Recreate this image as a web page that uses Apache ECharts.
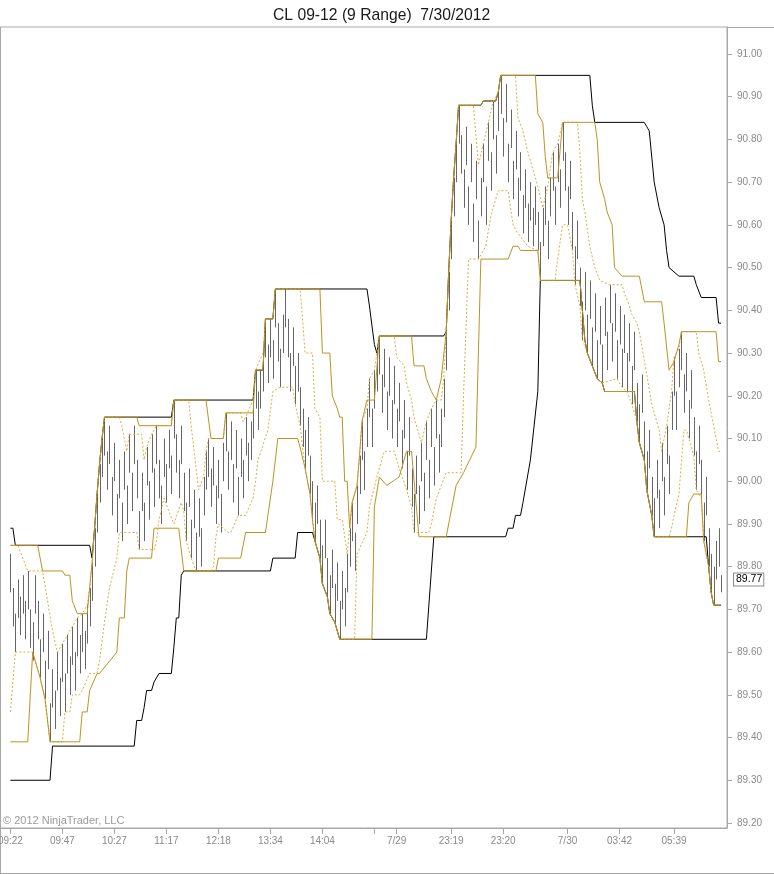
<!DOCTYPE html>
<html><head><meta charset="utf-8">
<script src="https://cdn.jsdelivr.net/npm/echarts@6/dist/echarts.min.js"></script>
<style>html,body{margin:0;padding:0;background:#fff}#c{width:774px;height:874px}</style>
</head><body><div id="c"></div>
<script>
// ---- data (bar index on x, price on y) ----
const chartTitle = 'CL 09-12 (9 Range)  7/30/2012';
const copyright = '\u00a9 2012 NinjaTrader, LLC';
const xTickIndex = [0, 21, 42, 63, 84, 105, 126, 147, 156, 178, 199, 225, 246, 268];
const xTickLabels = ['09:22', '09:47', '10:27', '11:17', '12:18', '13:34', '14:04', '', '7/29', '23:19', '23:20', '7/30', '03:42', '05:39'];
const yTickValues = [89.2, 89.3, 89.4, 89.5, 89.6, 89.7, 89.8, 89.9, 90.0, 90.1, 90.2, 90.3, 90.4, 90.5, 90.6, 90.7, 90.8, 90.9, 91.0];
const lastPrice = 89.77;

const barLows = [
89.74,89.66,89.60,89.68,89.64,89.69,89.63,89.70,89.61,89.58,
89.69,89.63,89.54,89.60,89.49,89.56,89.39,89.47,89.42,89.51,
89.45,89.53,89.46,89.55,89.50,89.57,89.51,89.59,89.55,89.60,
89.56,89.62,89.66,89.72,89.80,89.88,89.95,90.01,90.06,89.98,
90.04,89.92,90.00,89.88,89.96,89.86,89.98,89.90,90.02,89.93,
90.04,89.96,89.84,89.93,89.86,89.99,89.91,90.02,89.94,90.04,
89.96,89.90,90.01,89.95,90.03,89.97,90.10,90.02,89.96,90.04,
89.93,89.86,89.94,89.82,89.89,89.79,89.87,89.80,89.92,89.98,
90.01,89.94,89.99,89.90,89.96,89.88,90.00,90.07,89.98,90.05,
89.95,90.03,89.92,90.01,89.96,90.06,90.00,90.05,90.10,90.17,
90.12,90.17,90.21,90.29,90.23,90.29,90.24,90.36,90.28,90.22,
90.30,90.36,90.29,90.21,90.27,90.18,90.21,90.13,90.08,90.03,
90.06,89.97,89.91,89.86,89.90,89.82,89.76,89.82,89.73,89.69,
89.75,89.67,89.72,89.63,89.70,89.66,89.74,89.80,89.86,89.79,
89.90,89.97,90.05,89.98,90.08,90.15,90.08,90.17,90.21,90.25,
90.16,90.22,90.12,90.20,90.10,90.18,90.08,90.14,90.03,90.10,
89.98,90.06,89.94,89.88,89.97,89.90,90.00,89.93,90.05,89.96,
90.08,89.99,90.10,90.02,90.08,90.15,90.26,90.40,90.52,90.62,
90.70,90.79,90.72,90.64,90.74,90.60,90.70,90.56,90.66,90.52,
90.62,90.70,90.60,90.75,90.68,90.80,90.72,90.82,90.86,90.76,
90.84,90.70,90.78,90.66,90.73,90.62,90.68,90.58,90.64,90.56,
90.61,90.55,90.60,90.54,90.47,90.55,90.60,90.52,90.62,90.68,
90.60,90.70,90.64,90.75,90.68,90.60,90.66,90.54,90.46,90.52,
90.41,90.33,90.40,90.30,90.38,90.27,90.35,90.24,90.32,90.23,
90.34,90.26,90.37,90.28,90.35,90.24,90.32,90.22,90.30,90.21,
90.28,90.18,90.26,90.14,90.09,90.16,90.05,89.98,90.03,89.92,
89.87,89.96,89.89,90.00,89.92,90.04,89.97,90.12,90.20,90.12,
90.22,90.26,90.16,90.21,90.10,90.17,90.06,89.98,90.04,89.96,
89.86,89.92,89.80,89.74,89.71,89.77,89.80,89.74
];
const barHighs = [
89.83,89.75,89.69,89.77,89.73,89.78,89.72,89.79,89.70,89.67,
89.78,89.72,89.63,89.69,89.58,89.65,89.48,89.56,89.51,89.60,
89.54,89.62,89.55,89.64,89.59,89.66,89.60,89.68,89.64,89.69,
89.65,89.71,89.75,89.81,89.89,89.97,90.04,90.10,90.15,90.07,
90.13,90.01,90.09,89.97,90.05,89.95,90.07,89.99,90.11,90.02,
90.13,90.05,89.93,90.02,89.95,90.08,90.00,90.11,90.03,90.13,
90.05,89.99,90.10,90.04,90.12,90.06,90.19,90.11,90.05,90.13,
90.02,89.95,90.03,89.91,89.98,89.88,89.96,89.89,90.01,90.07,
90.10,90.03,90.08,89.99,90.05,89.97,90.09,90.16,90.07,90.14,
90.04,90.12,90.01,90.10,90.05,90.15,90.09,90.14,90.19,90.26,
90.21,90.26,90.30,90.38,90.32,90.38,90.33,90.45,90.37,90.31,
90.39,90.45,90.38,90.30,90.36,90.27,90.30,90.22,90.17,90.12,
90.15,90.06,90.00,89.95,89.99,89.91,89.85,89.91,89.82,89.78,
89.84,89.76,89.81,89.72,89.79,89.75,89.83,89.89,89.95,89.88,
89.99,90.06,90.14,90.07,90.17,90.24,90.17,90.26,90.30,90.34,
90.25,90.31,90.21,90.29,90.19,90.27,90.17,90.23,90.12,90.19,
90.07,90.15,90.03,89.97,90.06,89.99,90.09,90.02,90.14,90.05,
90.17,90.08,90.19,90.11,90.17,90.24,90.35,90.49,90.61,90.71,
90.79,90.88,90.81,90.73,90.83,90.69,90.79,90.65,90.75,90.61,
90.71,90.79,90.69,90.84,90.77,90.89,90.81,90.91,90.95,90.85,
90.93,90.79,90.87,90.75,90.82,90.71,90.77,90.67,90.73,90.65,
90.70,90.64,90.69,90.63,90.56,90.64,90.69,90.61,90.71,90.77,
90.69,90.79,90.73,90.84,90.77,90.69,90.75,90.63,90.55,90.61,
90.50,90.42,90.49,90.39,90.47,90.36,90.44,90.33,90.41,90.32,
90.43,90.35,90.46,90.37,90.44,90.33,90.41,90.31,90.39,90.30,
90.37,90.27,90.35,90.23,90.18,90.25,90.14,90.07,90.12,90.01,
89.96,90.05,89.98,90.09,90.01,90.13,90.06,90.21,90.29,90.21,
90.31,90.35,90.25,90.30,90.19,90.26,90.15,90.07,90.13,90.05,
89.95,90.01,89.89,89.83,89.80,89.86,89.89,89.78
];

// channel lines, vertices as [bar index, price]
const blackUpper = [[0,89.89],[1,89.89],[2,89.85],[32,89.85],[33,89.82],[34,89.89],[35,89.97],[36,90.04],[37,90.10],[38,90.15],[65,90.15],[66,90.19],[98,90.19],[99,90.26],[102,90.26],[103,90.38],[106,90.38],[107,90.45],[144,90.45],[145,90.41],[147,90.32],[148,90.30],[149,90.34],[175,90.34],[176,90.35],[177,90.49],[178,90.61],[179,90.71],[180,90.79],[181,90.88],[190,90.88],[191,90.89],[196,90.89],[197,90.91],[198,90.95],[234,90.95],[235,90.88],[236,90.84],[256,90.84],[257,90.83],[258,90.82],[260,90.70],[262,90.64],[264,90.60],[265,90.54],[266,90.50],[270,90.48],[276,90.48],[277,90.46],[279,90.43],[285,90.43],[286,90.37],[287,90.37]];
const blackLower = [[0,89.30],[16,89.30],[17,89.38],[50,89.38],[51,89.44],[53,89.44],[54,89.47],[55,89.51],[57,89.51],[58,89.53],[60,89.55],[65,89.55],[66,89.61],[67,89.68],[68,89.68],[69,89.78],[70,89.79],[105,89.79],[106,89.82],[115,89.82],[116,89.88],[122,89.88],[123,89.86],[125,89.82],[126,89.76],[128,89.73],[129,89.69],[131,89.67],[133,89.63],[168,89.63],[171,89.87],[200,89.87],[201,89.89],[203,89.89],[204,89.92],[206,89.92],[207,89.95],[210,90.05],[213,90.21],[214,90.47],[230,90.47],[231,90.40],[232,90.33],[233,90.30],[235,90.27],[237,90.24],[239,90.23],[240,90.21],[252,90.21],[253,90.14],[254,90.09],[256,90.05],[257,89.98],[259,89.92],[260,89.87],[281,89.87],[282,89.80],[283,89.74],[284,89.71],[287,89.71]];
const goldUpper = [[0,89.85],[11,89.85],[12,89.82],[13,89.79],[21,89.79],[22,89.78],[24,89.78],[25,89.72],[27,89.69],[31,89.69],[32,89.75],[33,89.81],[34,89.89],[35,89.97],[36,90.04],[37,90.10],[38,90.15],[51,90.15],[52,90.13],[65,90.13],[66,90.19],[79,90.19],[81,90.10],[86,90.10],[87,90.16],[98,90.16],[99,90.26],[102,90.26],[103,90.38],[106,90.38],[107,90.45],[125,90.45],[126,90.30],[129,90.30],[130,90.20],[132,90.17],[133,90.15],[134,90.15],[135,90.00],[136,90.00],[137,89.89],[138,89.95],[140,89.99],[141,90.06],[142,90.14],[144,90.19],[147,90.19],[149,90.34],[162,90.34],[163,90.27],[167,90.27],[168,90.24],[170,90.21],[172,90.19],[174,90.24],[176,90.35],[177,90.49],[178,90.61],[179,90.71],[180,90.79],[181,90.88],[190,90.88],[191,90.89],[196,90.89],[197,90.91],[198,90.95],[212,90.95],[213,90.86],[215,90.84],[216,90.76],[217,90.71],[221,90.71],[223,90.84],[236,90.84],[237,90.80],[238,90.70],[240,90.66],[241,90.63],[243,90.60],[244,90.50],[247,90.48],[254,90.48],[256,90.42],[263,90.42],[264,90.37],[266,90.26],[268,90.28],[270,90.32],[271,90.35],[285,90.35],[286,90.28],[287,90.28]];
const goldLower = [[0,89.39],[7,89.39],[9,89.60],[10,89.58],[12,89.54],[14,89.49],[16,89.39],[28,89.39],[29,89.46],[31,89.46],[32,89.51],[35,89.55],[36,89.55],[43,89.60],[44,89.68],[46,89.68],[47,89.79],[48,89.82],[57,89.82],[58,89.89],[68,89.89],[70,89.79],[83,89.79],[84,89.82],[93,89.82],[95,89.88],[103,89.88],[104,89.92],[106,90.00],[108,90.10],[116,90.10],[117,90.08],[119,90.03],[121,89.97],[122,89.91],[123,89.86],[125,89.82],[126,89.76],[128,89.73],[129,89.69],[131,89.67],[133,89.63],[146,89.63],[147,89.94],[149,90.01],[152,89.99],[157,90.01],[160,90.07],[162,90.07],[165,89.87],[176,89.87],[177,89.90],[178,89.93],[180,89.99],[183,90.02],[188,90.08],[190,90.52],[201,90.52],[203,90.55],[205,90.55],[206,90.54],[213,90.54],[214,90.47],[230,90.47],[231,90.40],[232,90.33],[233,90.30],[235,90.27],[237,90.24],[239,90.23],[240,90.21],[252,90.21],[253,90.14],[254,90.09],[256,90.05],[257,89.98],[259,89.92],[260,89.87],[273,89.87],[274,89.95],[276,89.97],[279,89.97],[280,89.86],[282,89.80],[283,89.74],[284,89.71],[287,89.71]];
const dashUpper = [[0,89.85],[3,89.85],[5,89.82],[7,89.79],[13,89.79],[15,89.72],[17,89.65],[19,89.60],[21,89.62],[23,89.64],[25,89.66],[27,89.68],[29,89.69],[31,89.71],[32,89.75],[33,89.81],[34,89.89],[35,89.97],[36,90.04],[37,90.10],[38,90.15],[44,90.15],[45,90.13],[47,90.07],[48,90.11],[53,90.11],[54,90.05],[55,90.08],[57,90.11],[59,90.13],[65,90.13],[66,90.19],[72,90.19],[73,90.13],[75,90.03],[76,89.98],[78,90.01],[79,90.07],[80,90.10],[86,90.10],[87,90.16],[93,90.16],[94,90.14],[95,90.15],[98,90.19],[99,90.26],[102,90.30],[103,90.38],[106,90.38],[107,90.45],[117,90.45],[118,90.38],[119,90.30],[122,90.30],[123,90.17],[125,90.15],[126,90.00],[131,90.00],[132,89.91],[134,89.91],[136,89.83],[137,89.89],[138,89.95],[140,89.99],[141,90.06],[142,90.14],[144,90.17],[145,90.24],[147,90.26],[148,90.30],[149,90.34],[155,90.34],[156,90.29],[159,90.27],[160,90.23],[162,90.19],[163,90.15],[166,90.09],[168,90.14],[170,90.17],[172,90.19],[174,90.19],[175,90.24],[176,90.35],[177,90.49],[178,90.61],[179,90.71],[180,90.79],[181,90.88],[187,90.88],[189,90.74],[191,90.79],[193,90.84],[195,90.89],[197,90.91],[198,90.95],[204,90.95],[205,90.85],[207,90.82],[209,90.77],[211,90.73],[213,90.69],[215,90.64],[217,90.69],[219,90.77],[221,90.79],[223,90.84],[229,90.84],[230,90.77],[231,90.66],[232,90.63],[234,90.55],[236,90.50],[238,90.47],[242,90.46],[247,90.46],[248,90.44],[250,90.41],[251,90.39],[253,90.37],[254,90.35],[257,90.25],[259,90.18],[261,90.14],[262,90.12],[263,90.07],[265,90.13],[267,90.21],[268,90.29],[270,90.31],[271,90.35],[277,90.35],[278,90.30],[280,90.26],[282,90.19],[284,90.13],[286,90.07],[287,90.07]];
const dashLower = [[0,89.46],[2,89.60],[9,89.60],[10,89.58],[12,89.54],[14,89.49],[16,89.39],[21,89.39],[22,89.46],[24,89.46],[25,89.50],[28,89.50],[29,89.51],[32,89.55],[35,89.55],[36,89.58],[38,89.67],[40,89.75],[43,89.82],[44,89.88],[51,89.88],[52,89.84],[58,89.84],[59,89.86],[60,89.91],[62,89.96],[66,89.90],[69,89.95],[70,89.93],[71,89.86],[73,89.82],[75,89.79],[81,89.79],[82,89.80],[83,89.87],[84,89.90],[88,89.88],[89,89.88],[92,89.92],[95,89.92],[98,89.96],[99,90.00],[100,90.05],[104,90.12],[106,90.21],[109,90.22],[114,90.22],[115,90.18],[117,90.13],[118,90.08],[119,90.03],[121,89.97],[122,89.91],[123,89.86],[125,89.82],[126,89.76],[128,89.73],[129,89.69],[131,89.67],[133,89.63],[139,89.63],[140,89.83],[144,89.88],[145,89.94],[148,90.01],[151,90.07],[155,90.07],[157,90.03],[160,89.98],[162,89.94],[163,89.88],[169,89.88],[170,89.90],[172,89.96],[174,89.99],[176,90.02],[182,90.02],[183,90.20],[185,90.52],[189,90.52],[192,90.55],[194,90.62],[197,90.68],[201,90.68],[203,90.60],[205,90.58],[209,90.55],[213,90.54],[214,90.47],[220,90.47],[221,90.52],[223,90.60],[225,90.60],[227,90.54],[228,90.46],[230,90.41],[231,90.33],[233,90.30],[235,90.27],[237,90.24],[239,90.23],[245,90.24],[247,90.22],[249,90.21],[251,90.18],[253,90.14],[254,90.09],[256,90.05],[257,89.98],[259,89.92],[260,89.87],[266,89.87],[267,89.89],[268,89.92],[270,89.97],[272,90.12],[273,90.12],[274,90.10],[276,90.06],[277,89.98],[279,89.96],[280,89.86],[282,89.80],[283,89.74],[284,89.71],[287,89.71]];

// ---- chart ----
const FONT = 'Liberation Sans, Arial, sans-serif';
const chart = echarts.init(document.getElementById('c'), null, {renderer: 'canvas'});
const barData = barLows.map((lo, i) => [i, lo, barHighs[i]]);
function lineSeries(name, data, color, type, z) {
  return {
    name, type: 'line', data, showSymbol: false, symbol: 'none', z,
    lineStyle: {color, width: 1, type}, animation: false, silent: true, clip: true
  };
}

chart.setOption({
  animation: false,
  backgroundColor: '#ffffff',
  title: {
    text: chartTitle, left: 268, top: 3,
    textStyle: {fontFamily: FONT, fontSize: 15.7, fontWeight: 'normal', color: '#1a1a1a'}
  },
  grid: {left: 0, right: 47, top: 27, bottom: 46, containLabel: false, outerBoundsMode: 'none',
         show: true, borderColor: '#a8a8a8', borderWidth: 1, backgroundColor: 'transparent'},
  xAxis: {
    type: 'value', min: -4.2, max: 289.4,
    axisLine: {show: true, onZero: false, lineStyle: {color: '#a8a8a8'}},
    axisTick: {show: true, customValues: xTickIndex, length: 6, lineStyle: {color: '#a8a8a8'}},
    axisLabel: {
      show: true, customValues: xTickIndex, margin: 8, color: '#8a8a8a', fontSize: 10, fontFamily: FONT,
      hideOverlap: false,
      formatter: v => { const k = xTickIndex.indexOf(Math.round(v)); return k >= 0 ? xTickLabels[k] : ''; }
    },
    splitLine: {show: false}
  },
  yAxis: {
    type: 'value', position: 'right', min: 89.1883, max: 91.0632,
    axisLine: {show: true, onZero: false, lineStyle: {color: '#a8a8a8'}},
    axisTick: {show: true, customValues: yTickValues, length: 5, lineStyle: {color: '#a8a8a8'}},
    axisLabel: {
      show: true, customValues: yTickValues, margin: 10, color: '#8a8a8a', fontSize: 10, fontFamily: FONT,
      formatter: v => v.toFixed(2)
    },
    splitLine: {show: false}
  },
  graphic: [
    {type: 'line', shape: {x1: 727, y1: 27.5, x2: 774, y2: 27.5}, style: {stroke: '#a8a8a8', lineWidth: 1}, silent: true},
    {type: 'line', shape: {x1: 0.5, y1: 27, x2: 0.5, y2: 874}, style: {stroke: '#a8a8a8', lineWidth: 1}, silent: true},
    {type: 'line', shape: {x1: 0, y1: 873.5, x2: 774, y2: 873.5}, style: {stroke: '#a8a8a8', lineWidth: 1}, silent: true},
    {type: 'text', left: 3, top: 815, silent: true,
     style: {text: copyright, fill: '#9a9a9a', font: '11px ' + FONT}}
  ],
  series: [
    {
      name: 'bars', type: 'custom', z: 2, animation: false, silent: true,
      data: barData,
      encode: {x: 0, y: [1, 2]},
      renderItem: function (params, api) {
        const i = api.value(0);
        const p1 = api.coord([i, api.value(1)]);
        const p2 = api.coord([i, api.value(2)]);
        const x = Math.round(p1[0]) + 0.5;
        return {type: 'line', shape: {x1: x, y1: p1[1], x2: x, y2: p2[1]}, style: {stroke: '#666666', lineWidth: 1}};
      }
    },
    lineSeries('blackUpper', blackUpper, '#000000', 'solid', 3),
    lineSeries('blackLower', blackLower, '#000000', 'solid', 3),
    lineSeries('dashUpper', dashUpper, '#dcae3c', [2, 2], 4),
    lineSeries('dashLower', dashLower, '#dcae3c', [2, 2], 4),
    lineSeries('goldUpper', goldUpper, '#bf9222', 'solid', 5),
    lineSeries('goldLower', goldLower, '#bf9222', 'solid', 5),
    {
      name: 'last', type: 'line', data: [], z: 6, clip: false, silent: true, animation: false,
      markLine: {
        silent: true, symbol: 'none', animation: false, precision: 2,
        data: [{yAxis: lastPrice}],
        lineStyle: {color: 'rgba(0,0,0,0)', width: 1, type: 'solid'},
        label: {
          show: true, position: 'end', distance: 7, opacity: 1,
          formatter: lastPrice.toFixed(2),
          color: '#000', fontSize: 10.5, fontFamily: FONT,
          backgroundColor: '#fff', borderColor: '#8c8c8c', borderWidth: 1, padding: [1, 1, 0, 2]
        },
        emphasis: {disabled: true}
      }
    }
  ]
});
</script>
</body></html>
